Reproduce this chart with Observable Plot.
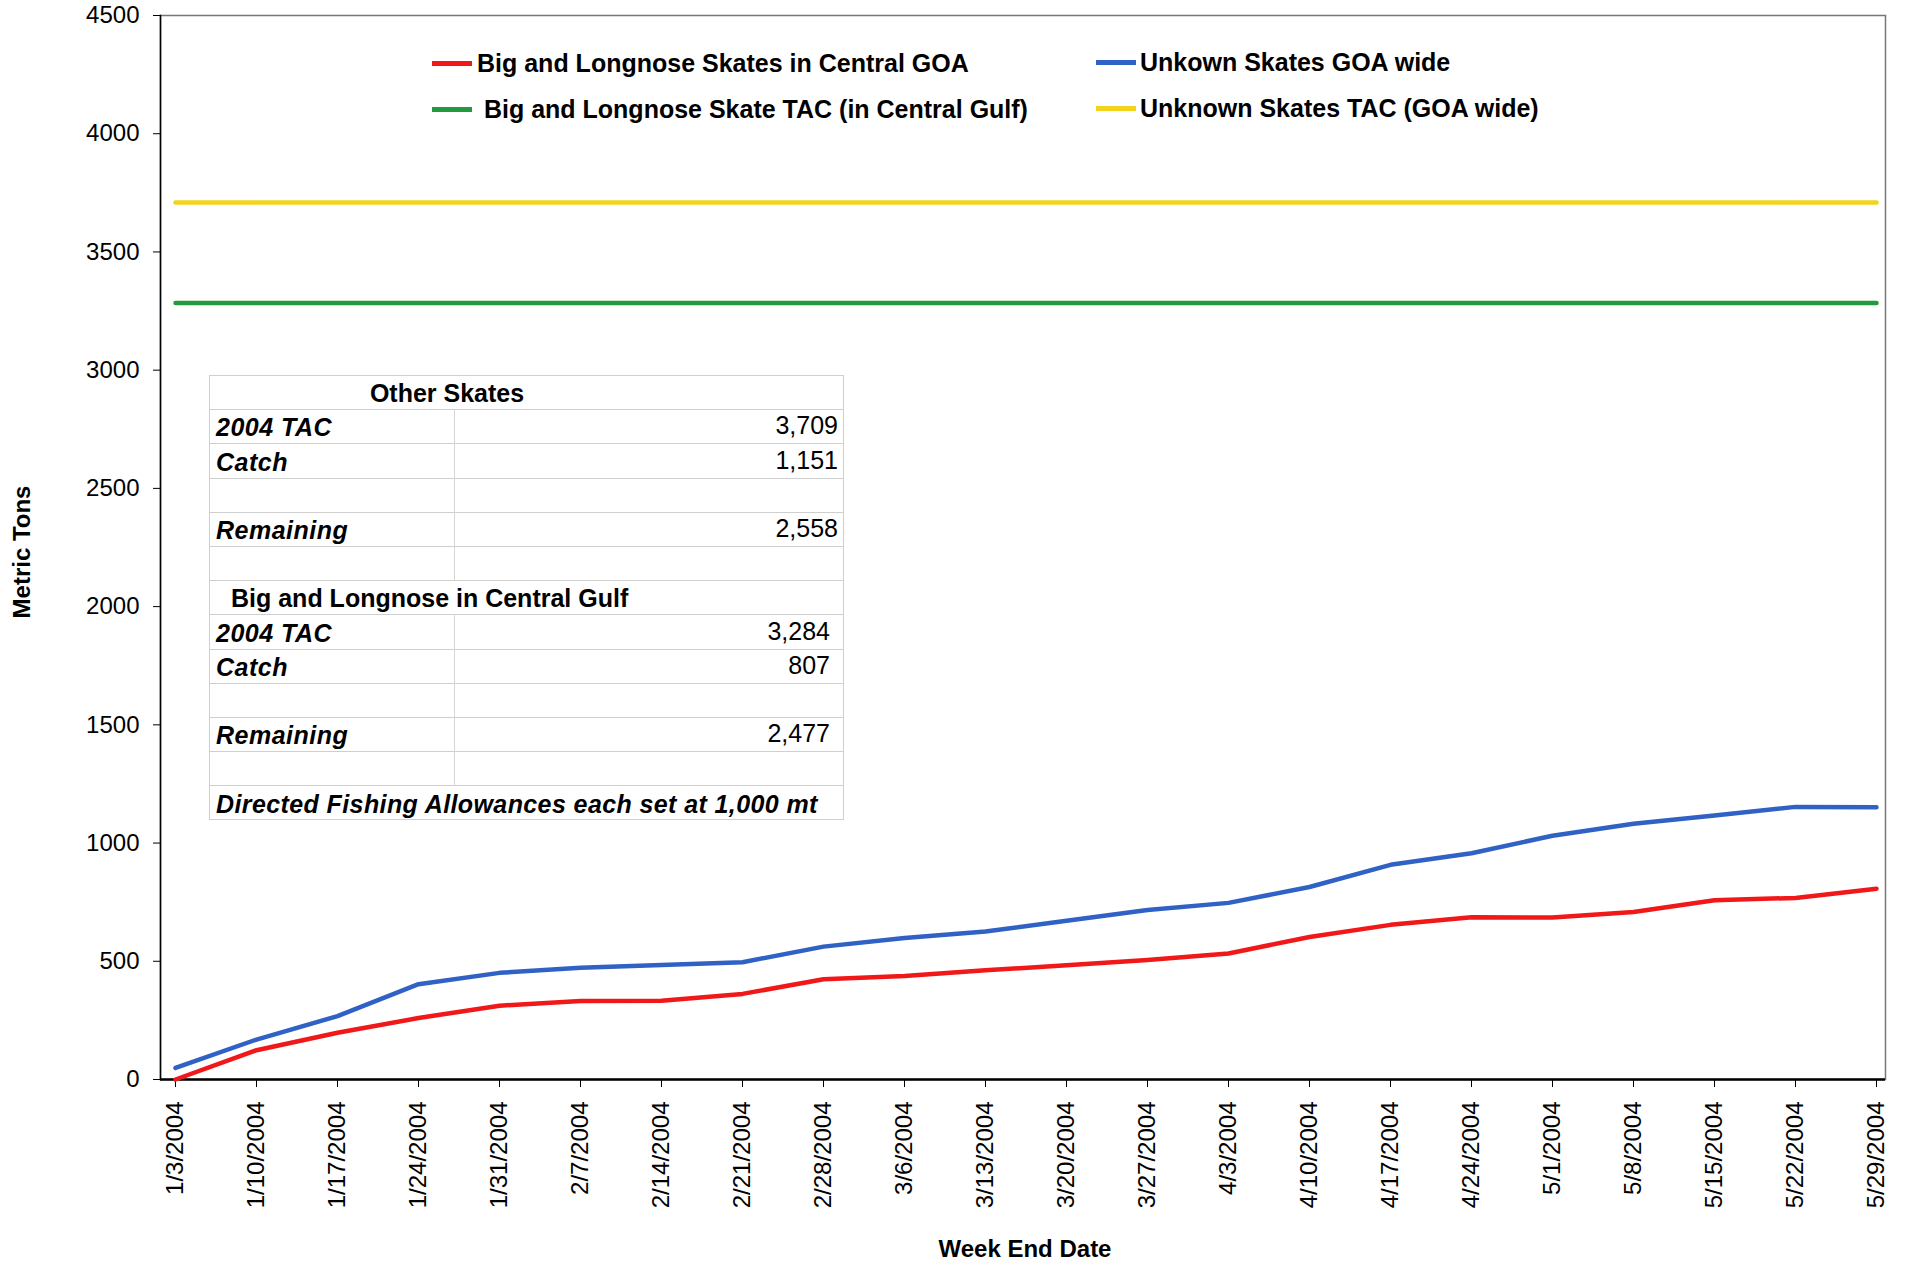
<!DOCTYPE html>
<html>
<head>
<meta charset="utf-8">
<script src="https://cdn.jsdelivr.net/npm/d3@7"></script>
<script src="https://cdn.jsdelivr.net/npm/@observablehq/plot@0.6"></script>
<style>
  html, body { margin: 0; padding: 0; background: #fff; }
  #wrap { position: relative; width: 1905px; height: 1264px; font-family: "Liberation Sans", Arial, sans-serif; color: #000; overflow: hidden; }
  #wrap svg { position: absolute; left: 0; top: 0; }
  .ov { position: absolute; white-space: nowrap; }
  .legtxt { font-weight: bold; font-size: 25px; line-height: 1; }
  .sw { position: absolute; height: 5px; }
  .cell { position: absolute; box-sizing: border-box; font-size: 25px; line-height: 1; white-space: nowrap; }
</style>
</head>
<body>
<div id="wrap"></div>
<script>
// ---- data ----
const dates = ["1/3/2004","1/10/2004","1/17/2004","1/24/2004","1/31/2004","2/7/2004","2/14/2004","2/21/2004","2/28/2004","3/6/2004","3/13/2004","3/20/2004","3/27/2004","4/3/2004","4/10/2004","4/17/2004","4/24/2004","5/1/2004","5/8/2004","5/15/2004","5/22/2004","5/29/2004"];
const bigLongnoseCentral = [0,124,198,260,312,332,333,362,424,438,462,483,505,533,603,654,686,685,708,758,768,807];
const unknownGOAWide = [49,169,268,403,451,473,484,496,562,598,626,671,717,747,814,908,957,1031,1082,1117,1153,1151];
const bigLongnoseTAC = 3284;
const unknownTAC = 3709;
const yTicks = [0,500,1000,1500,2000,2500,3000,3500,4000,4500];

const seriesNames = ["Big and Longnose Skates in Central GOA","Unkown Skates GOA wide"," Big and Longnose Skate TAC (in Central Gulf)","Unknown Skates TAC (GOA wide)"];
const seriesColors = ["#f01818","#2f62c4","#249a3e","#f2d41c"];

const tableRowsKind = ["head","row","row","row","row","row","head","row","row","row","row","row","note"];
const tableLabels = ["Other Skates","2004 TAC","Catch","","Remaining","","Big and Longnose in Central Gulf","2004 TAC","Catch","","Remaining","","Directed Fishing Allowances each set at 1,000 mt"];
const tableValues = ["","3,709","1,151","","2,558","","","3,284","807","","2,477","",""];

// ---- build tidy data ----
const lineData = [];
dates.forEach((d,i) => {
  lineData.push({date: d, value: bigLongnoseCentral[i], s: 0});
  lineData.push({date: d, value: unknownGOAWide[i], s: 1});
  lineData.push({date: d, value: bigLongnoseTAC, s: 2});
  lineData.push({date: d, value: unknownTAC, s: 3});
});

const chart = Plot.plot({
  width: 1905,
  height: 1264,
  marginLeft: 160,
  marginRight: 20,
  marginTop: 15,
  marginBottom: 185,
  style: {fontFamily: "'Liberation Sans', Arial, sans-serif", fontSize: "24px", background: "transparent", color: "#000"},
  x: {type: "point", domain: dates, padding: 0, insetLeft: 10, insetRight: 4},
  y: {domain: [0, 4500]},
  marks: [
    Plot.frame({stroke: "#777", strokeWidth: 1.5}),
    Plot.frame({anchor: "left", stroke: "#000", strokeWidth: 1.5}),
    Plot.ruleY([0], {stroke: "#000", strokeWidth: 2.5}),
    Plot.axisY({ticks: yTicks, tickSize: 7, tickPadding: 14, tickFormat: d => String(d), label: null, fontSize: 24, stroke: "#000"}),
    Plot.axisX({tickSize: 8, tickPadding: 14, tickRotate: -90, label: null, fontSize: 24, stroke: "#000"}),
    ...[3,2,0,1].map(k => Plot.lineY(lineData.filter(d => d.s === k), {x: "date", y: "value", stroke: seriesColors[k], strokeWidth: 4.5, strokeLinejoin: "round", strokeLinecap: "round"}))
  ]
});
const wrap = document.getElementById("wrap");
wrap.appendChild(chart);

function addEl(cls, css, text) {
  const el = document.createElement("div");
  el.className = cls;
  Object.assign(el.style, css);
  if (text !== undefined) el.textContent = text;
  wrap.appendChild(el);
  return el;
}

// axis titles
addEl("ov", {left: "22px", top: "552px", transform: "translate(-50%,-50%) rotate(-90deg)", fontWeight: "bold", fontSize: "24px"}, "Metric Tons");
addEl("ov", {left: "1025px", top: "1249px", transform: "translate(-50%,-50%)", fontWeight: "bold", fontSize: "24px"}, "Week End Date");

// legend
const legPos = [[432, 63, 477],[1096, 62, 1140],[432, 109, 477],[1096, 108, 1140]];
seriesNames.forEach((name, k) => {
  const [sx, sy, tx] = legPos[k];
  addEl("sw", {left: sx + "px", top: (sy - 2.5) + "px", width: "40px", background: seriesColors[k]});
  const t = addEl("ov legtxt", {left: tx + "px", top: sy + "px", transform: "translateY(-50%)"});
  t.textContent = name;
  t.style.whiteSpace = "pre";
});

// inset table
const tLeft = 209, tTop = 375, tWidth = 635, rowH = 34.2, divX = 454;
addEl("ov", {left: tLeft + "px", top: tTop + "px", width: tWidth + "px", height: (rowH * tableLabels.length) + "px", background: "#fff", border: "1.5px solid #cfcfcf", boxSizing: "border-box"});
tableLabels.forEach((lab, i) => {
  const y = tTop + i * rowH;
  const kind = tableRowsKind[i];
  if (i > 0) addEl("ov", {left: tLeft + "px", top: y + "px", width: tWidth + "px", height: "0", borderTop: "1.5px solid #cfcfcf"});
  if (kind === "row") {
    addEl("ov", {left: divX + "px", top: y + "px", width: "0", height: rowH + "px", borderLeft: "1.5px solid #d6d6d6"});
  }
  const cy = y + rowH / 2 + 1;
  if (kind === "head") {
    const left = i === 0 ? 447 : 231;
    const tr = i === 0 ? "translate(-50%,-50%)" : "translateY(-50%)";
    addEl("cell", {left: left + "px", top: cy + "px", transform: tr, fontWeight: "bold"}, lab);
  } else if (kind === "note") {
    addEl("cell", {left: "216px", top: cy + "px", transform: "translateY(-50%)", fontWeight: "bold", fontStyle: "italic", letterSpacing: "0.4px"}, lab);
  } else {
    if (lab) addEl("cell", {left: "216px", top: cy + "px", transform: "translateY(-50%)", fontWeight: "bold", fontStyle: "italic", letterSpacing: "0.5px"}, lab);
    const right = i < 6 ? 838 : 830;
    if (tableValues[i]) addEl("cell", {left: right + "px", top: (cy - 2) + "px", transform: "translate(-100%,-50%)"}, tableValues[i]);
  }
});
</script>
</body>
</html>
